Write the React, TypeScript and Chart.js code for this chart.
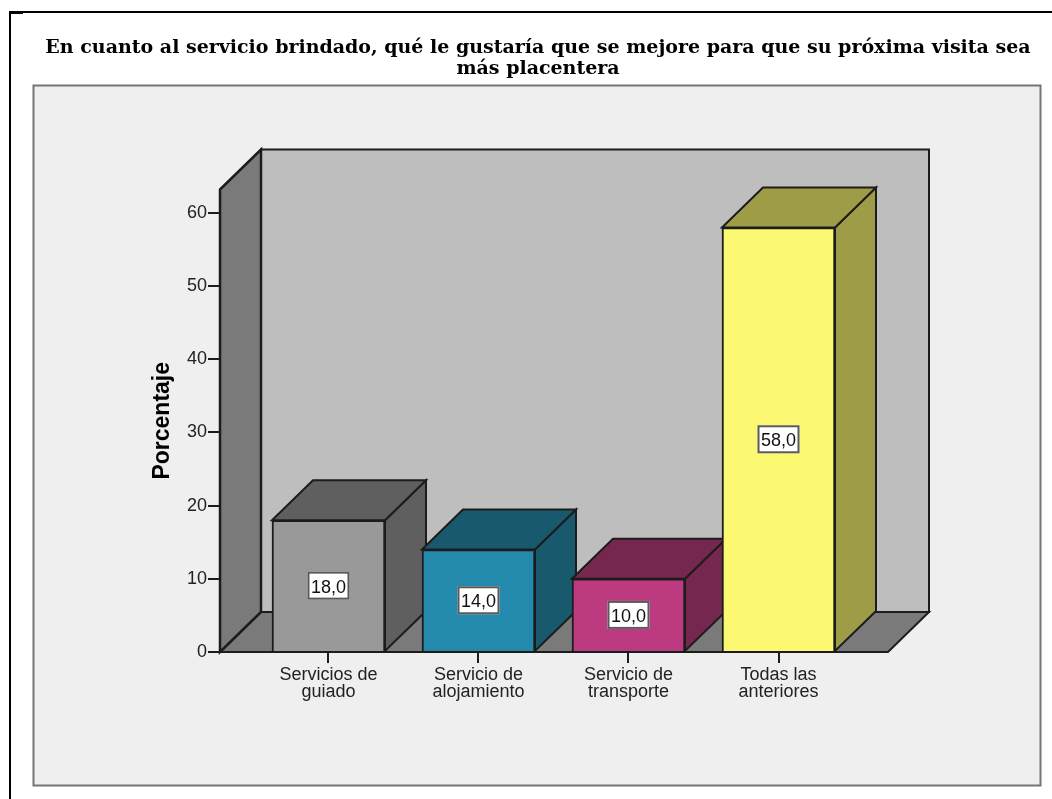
import React, { useEffect, useRef } from "react";
import { Chart, registerables } from "chart.js";

Chart.register(...registerables);

const categories = [["Servicios de", "guiado"], ["Servicio de", "alojamiento"], ["Servicio de", "transporte"], ["Todas las", "anteriores"]];
const percentages = [18.0, 14.0, 10.0, 58.0];
const valueLabels = ["18,0", "14,0", "10,0", "58,0"];
const frontColors = ["#999999", "#2389ad", "#bc3a80", "#fcf871"];
const shadeColors = ["#5f5f5f", "#18596e", "#76274f", "#9f9c48"];
const yTicks = [0, 10, 20, 30, 40, 50, 60];
const titleLines = [
  "En cuanto al servicio brindado, qué le gustaría que se mejore para que su próxima visita sea",
  "más placentera",
];

const INK = "#1c1c1c";
const DX = 41;
const DY = -40;
const X_MIN = -0.7233;
const X_MAX = 4.8233;
const FLOOR_END = 3.73;
const Y_MAX = 63.2;
const LABEL_FONT = '18px "Liberation Sans"';

const polygon = (ctx: CanvasRenderingContext2D, pts: number[][], fill: string, lw = 2) => {
  ctx.beginPath();
  pts.forEach((p, i) => (i ? ctx.lineTo(p[0], p[1]) : ctx.moveTo(p[0], p[1])));
  ctx.closePath();
  ctx.fillStyle = fill;
  ctx.fill();
  ctx.lineWidth = lw;
  ctx.strokeStyle = INK;
  ctx.lineJoin = "miter";
  ctx.stroke();
};

const frame = {
  id: "frame",
  beforeDraw(chart: any) {
    const { ctx } = chart;
    ctx.save();
    ctx.fillStyle = "#ffffff";
    ctx.fillRect(0, 0, 1052, 799);
    ctx.fillStyle = "#000000";
    ctx.fillRect(9, 11, 1043, 2);
    ctx.fillRect(9, 11, 2, 788);
    ctx.fillRect(9, 11, 14, 3);
    ctx.fillStyle = "#efefef";
    ctx.fillRect(33, 85, 1008, 701);
    ctx.strokeStyle = "#757575";
    ctx.lineWidth = 2;
    ctx.strokeRect(33.5, 85.5, 1007, 700);
    ctx.restore();
  },
};

const walls = {
  id: "walls",
  beforeDatasetsDraw(chart: any) {
    const { ctx, scales } = chart;
    const l = scales.x.getPixelForValue(X_MIN);
    const r = scales.x.getPixelForValue(FLOOR_END);
    const b = scales.y.getPixelForValue(0);
    const t = scales.y.getPixelForValue(Y_MAX);
    ctx.save();
    ctx.beginPath();
    ctx.rect(l + DX, t + DY, r - l, b - t);
    ctx.fillStyle = "#bebebe";
    ctx.fill();
    ctx.lineWidth = 2;
    ctx.strokeStyle = INK;
    ctx.stroke();
    polygon(ctx, [[l, b], [l + DX, b + DY], [r + DX, b + DY], [r, b]], "#7a7a7a");
    polygon(ctx, [[l, t], [l + DX, t + DY], [l + DX, b + DY], [l, b]], "#7a7a7a", 2.5);
    chart.getDatasetMeta(0).data.forEach((bar: any, i: number) => {
      const x2 = bar.x + bar.width / 2;
      const x1 = bar.x - bar.width / 2;
      polygon(ctx, [[x2, bar.y], [x2 + DX, bar.y + DY], [x2 + DX, bar.base + DY], [x2, bar.base]], shadeColors[i]);
      polygon(ctx, [[x1, bar.y], [x1 + DX, bar.y + DY], [x2 + DX, bar.y + DY], [x2, bar.y]], shadeColors[i]);
    });
    ctx.restore();
  },
};

const valueBoxes = {
  id: "valueBoxes",
  afterDatasetsDraw(chart: any) {
    const { ctx } = chart;
    ctx.save();
    chart.getDatasetMeta(0).data.forEach((bar: any, i: number) => {
      const cy = (bar.y + bar.base) / 2;
      ctx.fillStyle = "#ffffff";
      ctx.fillRect(bar.x - 21, cy - 14, 42, 28);
      ctx.strokeStyle = "#5a5a5a";
      ctx.lineWidth = 2;
      ctx.strokeRect(bar.x - 20, cy - 13, 40, 26);
      ctx.fillStyle = "#111111";
      ctx.font = LABEL_FONT;
      ctx.textAlign = "center";
      ctx.textBaseline = "middle";
      ctx.fillText(valueLabels[i], bar.x, cy + 2);
    });
    ctx.restore();
  },
};

export default function App() {
  const ref = useRef<HTMLCanvasElement>(null);
  useEffect(() => {
    const chart = new Chart(ref.current as HTMLCanvasElement, {
      type: "bar",
      data: {
        datasets: [
          {
            data: percentages.map((y, x) => ({ x, y })),
            backgroundColor: frontColors,
            borderColor: INK,
            borderWidth: 2,
            barThickness: 113,
          },
        ],
      },
      options: {
        responsive: false,
        animation: false,
        layout: { padding: { left: 24, right: 0, top: 0, bottom: 0 } },
        plugins: {
          legend: { display: false },
          tooltip: { enabled: false },
          title: {
            display: true,
            text: titleLines,
            color: "#000000",
            font: { family: '"DejaVu Serif"', size: 19, weight: "bold", lineHeight: "21px" },
            padding: { top: 37.5, bottom: 110 },
          },
        },
        scales: {
          x: {
            type: "linear",
            offset: false,
            min: X_MIN,
            max: X_MAX,
            afterFit(s: any) { s.height = 147; },
            afterBuildTicks(s: any) { s.ticks = categories.map((_, i) => ({ value: i })); },
            border: { display: false },
            grid: { offset: false, drawOnChartArea: false, color: INK, lineWidth: 2, tickLength: 11 },
            ticks: {
              autoSkip: false,
              maxRotation: 0,
              minRotation: 0,
              includeBounds: false,
              padding: 3,
              color: "#222222",
              font: { family: '"Liberation Sans"', size: 18, lineHeight: 0.96 },
              callback: (v: any) => categories[v],
            },
          },
          y: {
            type: "linear",
            min: 0,
            max: Y_MAX,
            afterFit(s: any) { s.width = 196; },
            afterBuildTicks(s: any) { s.ticks = yTicks.map((value) => ({ value })); },
            border: { display: false },
            grid: { drawOnChartArea: false, color: INK, lineWidth: 2, tickLength: 12 },
            ticks: {
              includeBounds: false,
              padding: 1,
              color: "#222222",
              font: { family: '"Liberation Sans"', size: 18 },
            },
            title: {
              display: true,
              text: "Porcentaje",
              color: "#000000",
              font: { family: '"Liberation Sans"', size: 23, weight: "bold", lineHeight: 1 },
              padding: { top: 127.5, bottom: 0 },
            },
          },
        },
      },
      plugins: [frame, walls, valueBoxes],
    } as any);
    return () => chart.destroy();
  }, []);
  return (
    <div style={{ position: "absolute", left: 0, top: 0, width: 1052, height: 799, overflow: "hidden" }}>
      <canvas ref={ref} width={1052} height={799} style={{ display: "block" }} />
    </div>
  );
}
